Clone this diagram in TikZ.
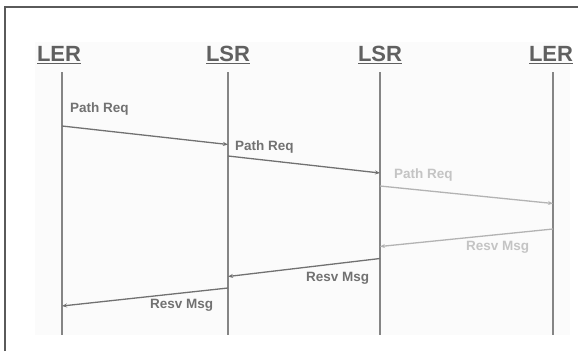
\documentclass[tikz,border=0pt]{standalone}
\usepackage{fontspec}
\setmainfont{Liberation Sans}
\usetikzlibrary{arrows.meta}
\definecolor{framec}{HTML}{5A5A5A}
\definecolor{lifec}{HTML}{858585}
\definecolor{headc}{HTML}{606060}
\definecolor{msgc}{HTML}{717171}
\definecolor{lightc}{HTML}{C4C4C4}
\definecolor{bgc}{HTML}{FBFBFB}
\tikzset{
  head/.style={font=\fontsize{22}{24}\selectfont\bfseries, text=headc, inner sep=0pt},
  life/.style={draw=lifec, line width=1.8pt},
  msg/.style={draw=msgc, line width=1.3pt, -{Stealth[length=5pt,width=4pt]}},
  lightmsg/.style={draw=lightc!80!msgc, line width=1.3pt, -{Stealth[length=5pt,width=4pt]}},
  lab/.style={font=\fontsize{13.5}{15}\selectfont\bfseries, text=msgc, inner sep=0pt, anchor=west},
  lightlab/.style={lab, text=lightc}
}
\newcommand{\ulhead}[1]{\underline{#1}}
\begin{document}
\begin{tikzpicture}[x=1pt,y=-1pt]
\useasboundingbox (0,0) rectangle (578,351);
\fill[white] (0,0) rectangle (578,351);
\fill[bgc] (35,42) rectangle (570,335);
% frame
\draw[framec, line width=1.8pt] (5,351) -- (5,7) -- (578,7);
% headings
\node[head] (h1) at (59,55) {\ulhead{LER}};
\node[head] (h2) at (228,55) {\ulhead{LSR}};
\node[head] (h3) at (380,55) {\ulhead{LSR}};
\node[head] (h4) at (551,55) {\ulhead{LER}};
% lifelines
\coordinate (t1) at (62,72);  \coordinate (b1) at (62,335);
\coordinate (t2) at (228,72); \coordinate (b2) at (228,335);
\coordinate (t3) at (380,72); \coordinate (b3) at (380,335);
\coordinate (t4) at (553,72); \coordinate (b4) at (553,335);
\draw[life] (t1) -- (b1);
\draw[life] (t2) -- (b2);
\draw[life] (t3) -- (b3);
\draw[life] (t4) -- (b4);
% message end points
\coordinate (p1s) at (62,126);  \coordinate (p1e) at (228,144.5);
\coordinate (p2s) at (228,156); \coordinate (p2e) at (380,173);
\coordinate (p3s) at (380,186); \coordinate (p3e) at (553,203.5);
\coordinate (r1s) at (553,229); \coordinate (r1e) at (380,246.5);
\coordinate (r2s) at (380,258.5); \coordinate (r2e) at (228,276.5);
\coordinate (r3s) at (228,288); \coordinate (r3e) at (62,306);
\draw[msg] (p1s) -- (p1e);
\draw[msg] (p2s) -- (p2e);
\draw[lightmsg] (p3s) -- (p3e);
\draw[lightmsg] (r1s) -- (r1e);
\draw[msg] (r2s) -- (r2e);
\draw[msg] (r3s) -- (r3e);
% labels
\node[lab] (l1) at (70,109) {Path Req};
\node[lab] (l2) at (235,147) {Path Req};
\node[lightlab] (l3) at (394,175) {Path Req};
\node[lightlab] (l4) at (466,247) {Resv Msg};
\node[lab] (l5) at (306,278) {Resv Msg};
\node[lab] (l6) at (150,305) {Resv Msg};
\end{tikzpicture}
\end{document}
